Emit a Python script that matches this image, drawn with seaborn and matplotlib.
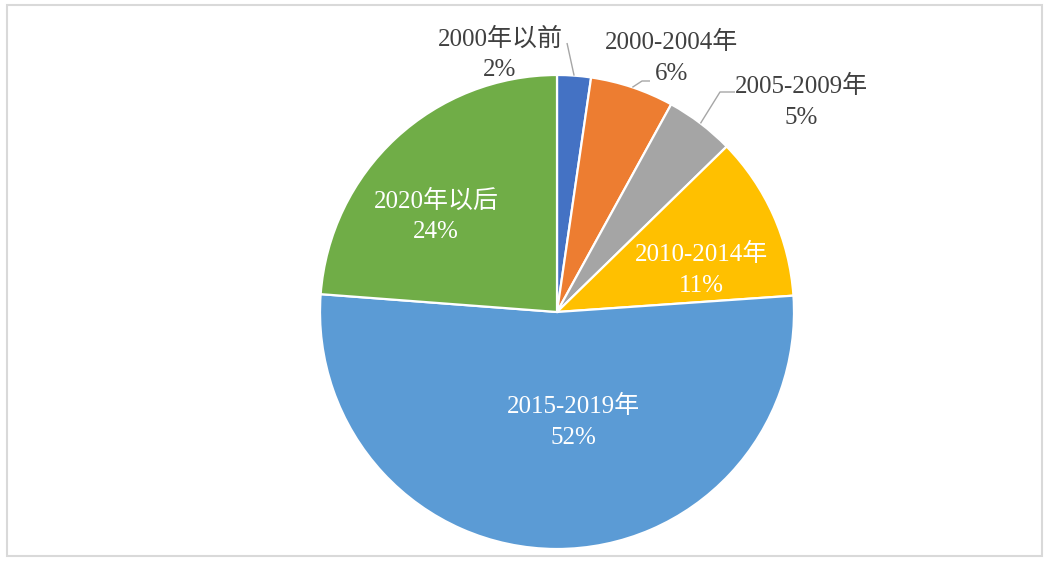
import matplotlib
matplotlib.use("Agg")
import matplotlib.pyplot as plt
import matplotlib.patches as mpatches
import seaborn as sns
import numpy as np

# data (shares in %)
periods = ["2000年以前", "2000-2004年", "2005-2009年", "2010-2014年", "2015-2019年", "2020年以后"]
shares = [2.3, 5.7, 4.7, 11.2, 52.3, 23.8]
colors = ["#4472C4", "#ED7D31", "#A5A5A5", "#FFC000", "#5B9BD5", "#70AD47"]

W, H = 1054, 565
FONT = ["Liberation Serif", "Noto Sans CJK SC", "DejaVu Sans"]

# label layout in pixel coords (x, y from top) and which ones sit outside
label_pos = [(500, 54), (672, 58), (801, 102), (701, 270), (573, 422), (436, 216)]
outside = [True, True, True, False, False, False]
# leader line end points (pixel coords), None = no leader
leader_end = [[(567, 43)], [(642, 81), (650, 81)], [(720, 92), (735, 92)], None, None, None]

sns.set_theme(style="white")
plt.rcParams["font.family"] = FONT

fig = plt.figure(figsize=(W / 100, H / 100), dpi=100)
ax = fig.add_axes([0, 0, 1, 1])

cx, cy, r = 557, 312, 237
wedges, _ = ax.pie(shares, colors=colors, startangle=90, counterclock=False,
                   center=(cx, H - cy), radius=r,
                   wedgeprops=dict(edgecolor="white", linewidth=1.6))
ax.set_xlim(0, W)
ax.set_ylim(0, H)
ax.set_aspect("equal")
ax.axis("off")

for w, name, val, pos, out, lead in zip(wedges, periods, shares, label_pos, outside, leader_end):
    txt = f"{name}\n{round(val):d}%"
    ax.text(pos[0], H - pos[1], txt, ha="center", va="center", multialignment="center",
            fontsize=18, linespacing=1.48, family=FONT,
            color="#404040" if out else "white")
    if lead:
        mid = np.deg2rad((w.theta1 + w.theta2) / 2)
        xs = [cx + r * np.cos(mid)] + [p[0] for p in lead]
        ys = [H - cy + r * np.sin(mid)] + [H - p[1] for p in lead]
        ax.plot(xs, ys, color="#A6A6A6", lw=1.0, solid_capstyle="butt")

# chart area border
ax.add_patch(mpatches.Rectangle((7, H - 556), 1035, 551, fill=False,
                                edgecolor="#D9D9D9", lw=1.5))

fig.savefig("out.png", dpi=100)
